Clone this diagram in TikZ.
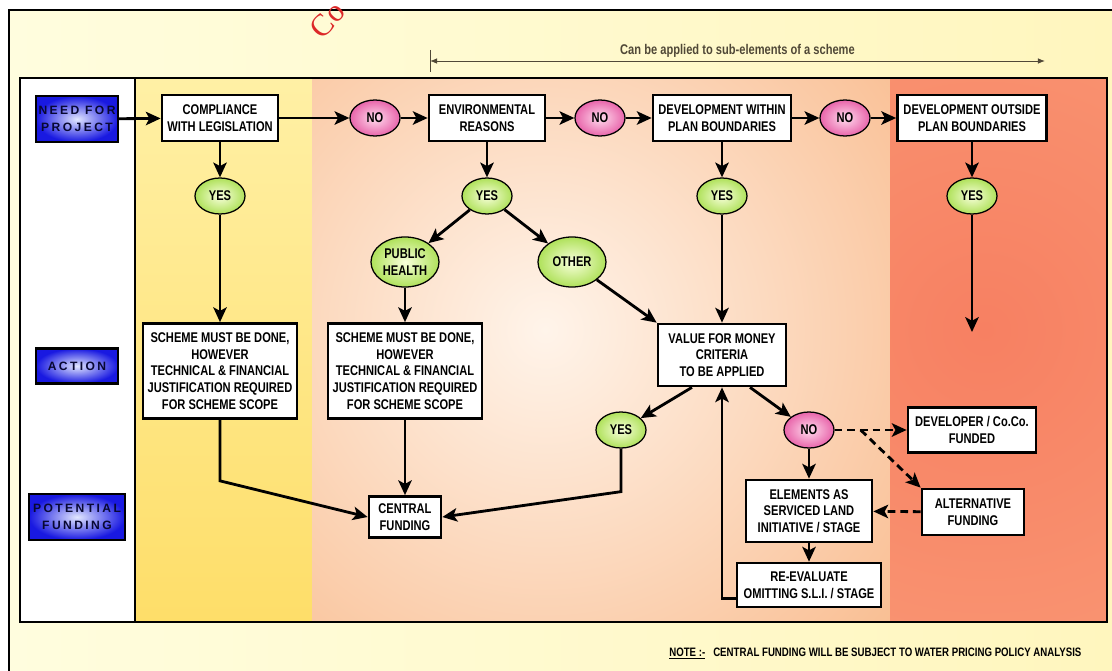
\documentclass[tikz,border=0pt]{standalone}
\usepackage{fontspec}
\setmainfont{Liberation Sans}[FakeStretch=0.79]
\newfontfamily\tagfont{Liberation Sans}[LetterSpace=20]
\newfontfamily\stampfont{Liberation Serif}
\usepackage{xcolor}
\usepackage{tikz}
\usetikzlibrary{arrows.meta,shapes.geometric,backgrounds,calc}

\definecolor{pagelight}{RGB}{255,253,222}
\definecolor{pageyellow}{RGB}{255,246,190}
\definecolor{yellowtop}{RGB}{255,240,165}
\definecolor{yellowbot}{RGB}{254,222,105}
\definecolor{orangeedge}{RGB}{246,164,104}
\definecolor{orangecore}{RGB}{255,244,234}
\definecolor{redcore}{RGB}{247,128,98}
\definecolor{rededge}{RGB}{250,156,120}
\definecolor{tagcore}{RGB}{225,230,255}
\definecolor{tagedge}{RGB}{25,25,225}
\definecolor{tagtext}{RGB}{8,8,50}
\definecolor{yescore}{RGB}{248,255,220}
\definecolor{yesedge}{RGB}{175,225,90}
\definecolor{nocore}{RGB}{255,220,238}
\definecolor{noedge}{RGB}{232,100,170}
\definecolor{spanline}{RGB}{80,72,55}
\definecolor{stampred}{RGB}{220,40,40}

\newcommand{\flowfont}{\bfseries\fontsize{10}{11.9}\selectfont}

\begin{document}
\begin{tikzpicture}[
    x=0.025cm, y=-0.025cm,
    baseblock/.style={draw, line width=1.9pt, fill=white, align=center,
                      inner sep=1pt, font=\flowfont},
    stdblock/.style={baseblock, minimum height=1.15cm},
    tagblock/.style={draw, line width=1.6pt, inner color=tagcore,
                     outer color=tagedge, align=center, inner sep=1pt,
                     minimum width=2.05cm, minimum height=1.15cm, text=tagtext,
                     font=\tagfont\bfseries\fontsize{8.6}{12}\selectfont},
    bubble/.style={ellipse, draw, line width=0.9pt, inner sep=0pt,
                   align=center, minimum width=1.25cm, minimum height=0.9cm,
                   font=\flowfont},
    yesbub/.style={bubble, inner color=yescore, outer color=yesedge},
    nobub/.style={bubble, inner color=nocore, outer color=noedge},
    arrow/.style={-{Stealth[length=10.5pt, width=9.5pt, inset=2.5pt]},
                  line width=2pt},
    dasharrow/.style={arrow, dash pattern=on 5.5pt off 3.5pt},
    spanarrow/.style={{Latex[length=5pt, width=4pt]}-{Latex[length=5pt, width=4pt]},
                      line width=0.7pt, spanline},
  ]
    \useasboundingbox (0,0) rectangle (1112,671);

    % Row labels
    \node[tagblock] (need) at (77,119) {NEED FOR\\PROJECT};
    \node[tagblock, minimum height=0.875cm] (action) at (77,366) {ACTION};
    \node[tagblock, minimum width=2.4cm] (potential) at (77,517)
          {POTENTIAL\\FUNDING};

    % Top chain
    \node[stdblock, minimum width=2.9cm] (comply) at (220,118)
          {COMPLIANCE\\WITH LEGISLATION};
    \node[nobub] (no1) at (375,118) {NO};
    \node[stdblock, minimum width=2.9cm] (env) at (487,118)
          {ENVIRONMENTAL\\REASONS};
    \node[nobub] (no2) at (600,118) {NO};
    \node[stdblock, minimum width=3.45cm] (within) at (722,118)
          {DEVELOPMENT WITHIN\\PLAN BOUNDARIES};
    \node[nobub] (no3) at (845,118) {NO};
    \node[stdblock, minimum width=3.725cm] (outside) at (972,118)
          {DEVELOPMENT OUTSIDE\\PLAN BOUNDARIES};
    \draw[arrow] (need) -- (comply);
    \draw[arrow] (comply) -- (no1);
    \draw[arrow] (no1) -- (env);
    \draw[arrow] (env) -- (no2);
    \draw[arrow] (no2) -- (within);
    \draw[arrow] (within) -- (no3);
    \draw[arrow] (no3) -- (outside);

    % Yes branches
    \node[yesbub] (yes1) at (220,196) {YES};
    \node[yesbub] (yes2) at (487,196) {YES};
    \node[yesbub] (yes3) at (722,196) {YES};
    \node[yesbub] (yes4) at (972,196) {YES};
    \node[yesbub, minimum width=1.7cm, minimum height=1.25cm] (health)
          at (405,262) {PUBLIC\\HEALTH};
    \node[yesbub, minimum width=1.7cm, minimum height=1.25cm] (other)
          at (572,262) {OTHER};
    \draw[arrow] (comply) -- (yes1);
    \draw[arrow] (env) -- (yes2);
    \draw[arrow] (within) -- (yes3);
    \draw[arrow] (outside) -- (yes4);
    \draw[arrow] (yes2) -- (health);
    \draw[arrow] (yes2) -- (other);

    % Action row
    \node[baseblock, minimum width=3.85cm, minimum height=2.375cm] (scheme1)
          at (220,371) {SCHEME MUST BE DONE,\\HOWEVER\\TECHNICAL \& FINANCIAL\\%
          JUSTIFICATION REQUIRED\\FOR SCHEME SCOPE};
    \node[baseblock, minimum width=3.85cm, minimum height=2.375cm] (scheme2)
          at (405,371) {SCHEME MUST BE DONE,\\HOWEVER\\TECHNICAL \& FINANCIAL\\%
          JUSTIFICATION REQUIRED\\FOR SCHEME SCOPE};
    \node[baseblock, minimum width=3.2cm, minimum height=1.55cm] (value)
          at (722,355) {VALUE FOR MONEY\\CRITERIA\\TO BE APPLIED};
    \coordinate (outend) at (972,332);
    \draw[arrow] (yes1) -- (scheme1);
    \draw[arrow] (health) -- (scheme2);
    \draw[arrow] (other) -- (value.north west);
    \draw[arrow] (yes3) -- (value);
    \draw[arrow] (yes4) -- (outend);

    % Funding row
    \node[yesbub] (yes5) at (621,430) {YES};
    \node[nobub] (no4) at (809,430) {NO};
    \node[baseblock, minimum width=1.8cm, minimum height=1.025cm] (central)
          at (405,517) {CENTRAL\\FUNDING};
    \node[stdblock, minimum width=3.2cm, minimum height=1.125cm] (developer)
          at (972,430) {DEVELOPER / Co.Co.\\FUNDED};
    \node[baseblock, minimum width=3.15cm, minimum height=1.55cm] (elements)
          at (809,511) {ELEMENTS AS\\SERVICED LAND\\INITIATIVE / STAGE};
    \node[stdblock, minimum width=2.55cm] (alt) at (973,512)
          {ALTERNATIVE\\FUNDING};
    \node[baseblock, minimum width=3.6cm, minimum height=1.1cm] (reeval)
          at (809,585) {RE-EVALUATE\\OMITTING S.L.I. / STAGE};

    \draw[arrow] ([xshift=-0.75cm]value.south) -- (yes5);
    \draw[arrow] ([xshift=0.7cm]value.south) -- (no4);
    \draw[arrow] (scheme1.south) -- ++(0,61) -- (central.west);
    \draw[arrow] (scheme2) -- (central);
    \draw[arrow] (yes5.south) -- ++(0,43) -- (central.east);
    \draw[arrow] (no4) -- (elements);
    \draw[arrow] (elements) -- (reeval);
    \draw[arrow] ([yshift=-0.33cm]reeval.west) -| (value.south);

    % Dashed alternatives
    \coordinate (fork) at ([xshift=0.65cm]no4.east);
    \draw[dasharrow] (no4.east) -- (fork) -- (developer.west);
    \draw[dasharrow] (fork) -- (alt.north west);
    \draw[dasharrow] (alt) -- (elements);

    % Span of sub-elements
    \coordinate (spanL) at (430,61);
    \coordinate (spanR) at (1045,61);
    \draw[spanarrow] (spanL) -- (spanR)
          node[midway, above=-1pt, font=\flowfont] {Can be applied to sub-elements of a scheme};
    \draw[spanline, line width=0.7pt] ([yshift=0.28cm]spanL) -- ([yshift=-0.28cm]spanL);

    % Note
    \node[anchor=base west, font=\bfseries\fontsize{8.7}{10}\selectfont, inner sep=0pt]
          (note) at (669,656)
          {\underline{NOTE :-}\hspace{0.2cm}CENTRAL FUNDING WILL BE SUBJECT TO WATER PRICING POLICY ANALYSIS};

    % Stamp
    \node[text=stampred, rotate=47, inner sep=0pt,
          font=\stampfont\fontsize{22}{22}\selectfont] (stamp) at (327,20) {Co};

    % Background panels
    \begin{scope}[on background layer]
      \fill[white] (0,0) rectangle (1112,671);
      \shade[left color=pagelight, right color=pageyellow] (9,10) rectangle (1112,671);
      \draw[line width=1.9pt] (1112,10) -- (9,10) -- (9,671);
      \fill[white] (20,78) rectangle (135,622);
      \shade[top color=yellowtop, bottom color=yellowbot] (135,78) rectangle (312,622);
      \begin{scope}
        \clip (312,78) rectangle (890,622);
        \fill[orangeedge] (312,78) rectangle (890,622);
        \shade[inner color=orangecore, outer color=orangeedge] (545,330) circle (17cm);
      \end{scope}
      \begin{scope}
        \clip (890,78) rectangle (1107,622);
        \fill[rededge] (890,78) rectangle (1107,622);
        \shade[inner color=redcore, outer color=rededge] (985,330) circle (12cm);
      \end{scope}
      \draw[line width=1.6pt] (20,78) rectangle (1107,622);
      \draw[line width=1.6pt] (135,78) -- (135,622);
    \end{scope}
  \end{tikzpicture}
\end{document}
